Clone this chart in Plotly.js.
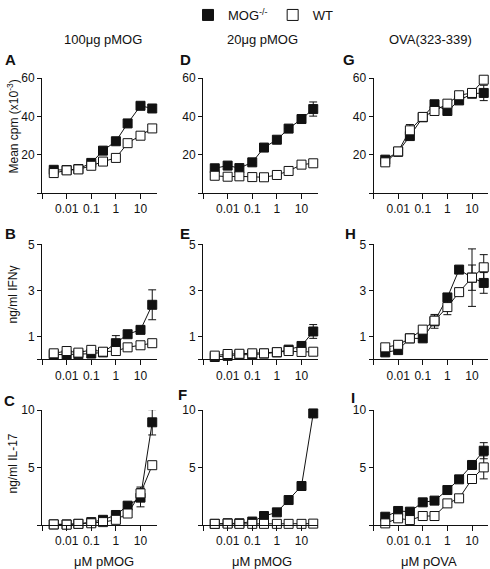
<!DOCTYPE html>
<html>
<head>
<meta charset="utf-8">
<script src="https://cdn.plot.ly/plotly-3.0.1.min.js"></script>
<style>html,body{margin:0;padding:0;background:#fff;}#chart{width:490px;height:569px;}</style>
</head>
<body>
<div id="chart"></div>
<script>
// ---- data ----
const doses = [0.003, 0.01, 0.03, 0.1, 0.3, 1, 3, 10, 30];

// Row 1: proliferation, mean cpm (x10^-3)
const A_mog = [12.1, 12, 12.5, 15.7, 22.1, 27, 36.3, 45.5, 44.1];
const A_wt  = [10.4, 11.8, 12.3, 14.2, 16.4, 18.3, 26, 29.9, 33.7];
const A_mog_err = [null, null, null, null, null, null, null, null, null];
const A_wt_err  = [null, null, null, null, null, null, null, null, null];

const D_mog = [12.9, 14.3, 13, 16, 23.7, 27.8, 33.6, 38.6, 43.8];
const D_wt  = [9, 8.5, 8.7, 8.3, 8.2, 9.4, 11.5, 14.8, 15.5];
const D_mog_err = [null, null, null, null, null, null, null, null, 3.7];
const D_wt_err  = [null, null, null, null, null, null, null, null, null];

const G_mog = [17.4, 21.5, 29.7, 39.5, 46.3, 42.8, 48.3, 51.8, 52.2];
const G_wt  = [16, 21.7, 32.7, 39.7, 42.8, 46.6, 51, 52.2, 59.1];
const G_mog_err = [null, null, null, null, null, null, null, null, 4];
const G_wt_err  = [null, null, 3, null, null, null, null, null, null];

// Row 2: ng/ml IFN-gamma
const B_mog = [0.2, 0.2, 0.22, 0.25, 0.3, 0.7, 1.09, 1.28, 2.37];
const B_wt  = [0.26, 0.36, 0.29, 0.41, 0.33, 0.36, 0.52, 0.61, 0.7];
const B_mog_err = [null, null, null, null, null, 0.33, null, null, 0.65];
const B_wt_err  = [null, null, null, null, null, null, null, null, null];

const E_mog = [0.1, 0.15, 0.2, 0.2, 0.25, 0.3, 0.42, 0.58, 1.21];
const E_wt  = [0.16, 0.23, 0.24, 0.26, 0.26, 0.31, 0.36, 0.32, 0.33];
const E_mog_err = [null, null, null, null, null, null, null, null, 0.3];
const E_wt_err  = [null, null, null, null, null, null, null, null, null];

const H_mog = [0.3, 0.4, 0.91, 0.91, 1.65, 2.69, 3.9, 3.55, 3.32];
const H_wt  = [0.52, 0.63, 0.91, 1.29, 1.68, 2.27, 2.92, 3.55, 4.0];
const H_mog_err = [null, null, null, null, 0.3, null, null, 0.55, 0.45];
const H_wt_err  = [null, null, null, null, 0.2, 0.33, null, 1.25, 0.55];

// Row 3: ng/ml IL-17
const C_mog = [0.05, 0.05, 0.1, 0.25, 0.45, 0.87, 1.68, 2.38, 8.93];
const C_wt  = [0.05, 0.03, 0.1, 0.15, 0.25, 0.45, 1.0, 2.75, 5.2];
const C_mog_err = [null, null, null, null, null, null, null, 0.8, 1.1];
const C_wt_err  = [null, null, null, null, null, null, null, 0.55, null];

const F_mog = [0.1, 0.15, 0.15, 0.3, 0.78, 1.1, 2.17, 3.39, 9.7];
const F_wt  = [0.1, 0.12, 0.1, 0.1, 0.1, 0.1, 0.1, 0.1, 0.12];
const F_mog_err = [null, null, null, null, null, null, null, null, null];
const F_wt_err  = [null, null, null, null, null, null, null, null, null];

const I_mog = [0.72, 1.22, 1.16, 1.97, 2.12, 3.04, 3.97, 5.22, 6.46];
const I_wt  = [0.14, 0.58, 0.43, 0.78, 0.78, 1.88, 2.32, 4.0, 5.01];
const I_mog_err = [null, null, null, null, null, null, null, null, 0.7];
const I_wt_err  = [null, null, null, null, null, null, null, null, 1.0];

const seriesNames = ['MOG<sup>-/-</sup>', 'WT'];
const panelLetters = ['A', 'B', 'C', 'D', 'E', 'F', 'G', 'H', 'I'];
const columnTitles = ['100μg pMOG', '20μg pMOG', 'OVA(323-339)'];
const xAxisTitles = ['μM pMOG', 'μM pMOG', 'μM pOVA'];
const rowTitles = ['Mean cpm (x10<sup>-3</sup>)', 'ng/ml IFNγ', 'ng/ml IL-17'];
const xTickVals = [0.001, 0.01, 0.1, 1, 10];
const xTickText = ['', '0.01', '0.1', '1', '10'];
const rowTickVals = [[0, 20, 40, 60], [0, 1, 3, 5], [0, 5, 10]];
const rowTickText = [['', '20', '40', '60'], ['', '1', '3', '5'], ['', '5', '10']];
const rowMax = [60, 5, 10];

// ---- panels in order A..I (column-major) ----
const panelData = [
  [A_mog, A_wt, A_mog_err, A_wt_err],
  [B_mog, B_wt, B_mog_err, B_wt_err],
  [C_mog, C_wt, C_mog_err, C_wt_err],
  [D_mog, D_wt, D_mog_err, D_wt_err],
  [E_mog, E_wt, E_mog_err, E_wt_err],
  [F_mog, F_wt, F_mog_err, F_wt_err],
  [G_mog, G_wt, G_mog_err, G_wt_err],
  [H_mog, H_wt, H_mog_err, H_wt_err],
  [I_mog, I_wt, I_mog_err, I_wt_err]
];

// ---- layout geometry (pixels) ----
const W = 490, H = 569;
const colPx = [[42, 156.5], [203, 317.5], [373.5, 488]];
const rowPx = [[78, 193], [244.3, 359.3], [410, 525]];
const px = v => v / W;
const py = v => 1 - v / H;

const FONT = 'Liberation Sans, Arial, Helvetica, sans-serif';
const INK = '#111';

const traces = [];
// legend-only entries
traces.push({
  type: 'scatter', mode: 'markers', x: [null], y: [null], xaxis: 'x', yaxis: 'y',
  name: seriesNames[0], showlegend: true,
  marker: {symbol: 'square', size: 11, color: INK, line: {color: INK, width: 1}}
});
traces.push({
  type: 'scatter', mode: 'markers', x: [null], y: [null], xaxis: 'x', yaxis: 'y',
  name: seriesNames[1], showlegend: true,
  marker: {symbol: 'square', size: 11, color: '#fff', line: {color: INK, width: 1}}
});

const layout = {
  width: W, height: H,
  margin: {l: 0, r: 0, t: 0, b: 0, pad: 0},
  paper_bgcolor: '#fff', plot_bgcolor: 'rgba(0,0,0,0)',
  font: {family: FONT, color: INK, size: 12},
  showlegend: true,
  legend: {
    orientation: 'h', x: px(188), y: py(0), xanchor: 'left', yanchor: 'top',
    font: {family: FONT, size: 13, color: INK}, itemwidth: 30,
    bgcolor: 'rgba(0,0,0,0)', borderwidth: 0, itemclick: false
  },
  annotations: [],
  hovermode: false
};

for (let i = 0; i < 9; i++) {
  const col = Math.floor(i / 3), row = i % 3;
  const n = i + 1;
  const xa = 'x' + (n === 1 ? '' : n), ya = 'y' + (n === 1 ? '' : n);
  const [mog, wt, mogErr, wtErr] = panelData[i];

  const common = {
    type: 'scatter', mode: 'lines+markers', x: doses, xaxis: xa, yaxis: ya,
    showlegend: false, cliponaxis: false,
    line: {color: INK, width: 1}
  };
  traces.push(Object.assign({}, common, {
    name: seriesNames[0], y: mog,
    marker: {symbol: 'square', size: 9, color: INK, line: {color: INK, width: 1}},
    error_y: {type: 'data', array: mogErr, visible: true, color: INK, thickness: 1, width: 4}
  }));
  traces.push(Object.assign({}, common, {
    name: seriesNames[1], y: wt,
    marker: {symbol: 'square', size: 9, color: '#fff', line: {color: INK, width: 1}},
    error_y: {type: 'data', array: wtErr, visible: true, color: INK, thickness: 1, width: 4}
  }));

  const xKey = 'xaxis' + (n === 1 ? '' : n), yKey = 'yaxis' + (n === 1 ? '' : n);
  layout[xKey] = {
    domain: [px(colPx[col][0]), px(colPx[col][1])],
    anchor: ya, type: 'log', range: [Math.log10(0.001) - 0.0005, 1.65],
    tickmode: 'array', tickvals: xTickVals, ticktext: xTickText,
    ticks: 'outside', ticklen: 5, tickwidth: 1, tickcolor: INK,
    showline: true, linecolor: INK, linewidth: 1, showgrid: false, zeroline: false,
    tickfont: {family: FONT, size: 12, color: INK}, fixedrange: true
  };
  layout[yKey] = {
    domain: [py(rowPx[row][1]), py(rowPx[row][0])],
    anchor: xa, range: [0, rowMax[row]],
    tickmode: 'array', tickvals: rowTickVals[row], ticktext: rowTickText[row],
    ticks: 'outside', ticklen: 4, tickwidth: 1, tickcolor: INK,
    showline: true, linecolor: INK, linewidth: 1, showgrid: false, zeroline: false,
    tickfont: {family: FONT, size: 12, color: INK}, fixedrange: true
  };
}

// panel letters
const letterPos = [[3, 59], [3, 234], [2, 400], [178, 59], [178, 234], [176, 394], [341, 59], [343, 234], [349, 397]];
panelLetters.forEach((t, i) => {
  layout.annotations.push({
    text: '<b>' + t + '</b>', xref: 'paper', yref: 'paper',
    x: px(letterPos[i][0]), y: py(letterPos[i][1]), xanchor: 'left', yanchor: 'middle',
    showarrow: false, font: {family: FONT, size: 15, color: INK}
  });
});
// column titles
const colTitleX = [103, 262, 430.5];
columnTitles.forEach((t, c) => {
  layout.annotations.push({
    text: t, xref: 'paper', yref: 'paper', x: px(colTitleX[c]), y: py(39),
    xanchor: 'center', yanchor: 'middle', showarrow: false,
    font: {family: FONT, size: 13, color: INK}
  });
});
// x-axis titles
const xTitleX = [103.5, 262, 429];
xAxisTitles.forEach((t, c) => {
  layout.annotations.push({
    text: t, xref: 'paper', yref: 'paper', x: px(xTitleX[c]), y: py(561),
    xanchor: 'center', yanchor: 'middle', showarrow: false,
    font: {family: FONT, size: 13, color: INK}
  });
});
// y-axis titles
const yTitleY = [127, 295, 464];
rowTitles.forEach((t, r) => {
  layout.annotations.push({
    text: t, xref: 'paper', yref: 'paper', x: px(12.5), y: py(yTitleY[r]),
    xanchor: 'center', yanchor: 'middle', textangle: -90, showarrow: false,
    font: {family: FONT, size: 12, color: INK}
  });
});

Plotly.newPlot('chart', traces, layout, {staticPlot: true, displayModeBar: false});
</script>
</body>
</html>
